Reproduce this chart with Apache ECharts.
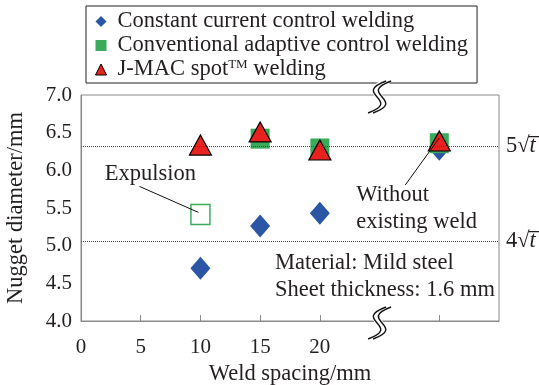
<!DOCTYPE html>
<html><head><meta charset="utf-8">
<script src="https://cdn.jsdelivr.net/npm/echarts@6/dist/echarts.min.js"></script>
<style>html,body{margin:0;padding:0;background:#fff}#c{width:539px;height:385px}</style>
</head><body><div id="c"></div>
<script>
const seriesNames = ['Constant current control welding','Conventional adaptive control welding','J-MAC spot\u2122 welding'];
const weldSpacing = [10, 15, 20, 30];
const constantCurrent = [4.70, 5.26, 5.43, 6.28];
const conventionalAdaptive = [5.415, 6.42, 6.29, 6.36];
const jmacSpot = [6.335, 6.51, 6.27, 6.39];
const xTickLabels = [0, 5, 10, 15, 20];
const xTicks = [5, 10, 15, 20, 25, 30];
const refLines = [{v: 5*Math.sqrt(1.6), k: '5'}, {v: 4*Math.sqrt(1.6), k: '4'}];
const expulsionIndex = 0;

const FONT = 'Liberation Serif';
const TXT = '#231f20';
const AX = '#8a8a8a';
const FS = 22.5;
const chart = echarts.init(document.getElementById('c'), null, {renderer: 'canvas'});

function pairs(vals){ return weldSpacing.map((x,i)=>[x, vals[i]]); }

const option = {
  animation: false,
  textStyle: {fontFamily: FONT, color: TXT},
  grid: {left: 81, right: 40, top: 95, bottom: 64, show: true, borderColor: AX, borderWidth: 1,
         containLabel: false, outerBoundsMode: 'none'},
  legend: {
    orient: 'vertical', left: 86, top: 6,
    borderColor: TXT, borderWidth: 1, padding: [4, 9, 2, 9],
    itemWidth: 11, itemHeight: 11, itemGap: 1,
    formatter: n => n.replace('\u2122', '{sup|TM}'),
    textStyle: {fontFamily: FONT, fontSize: FS, color: TXT, padding: [0, 0, 0, 6],
      rich: {sup: {fontFamily: FONT, fontSize: 13, color: TXT, verticalAlign: 'top', padding: [0, 0, 8, 0]}}},
    data: [
      {name: seriesNames[0], icon: 'diamond'},
      {name: seriesNames[1], icon: 'rect'},
      {name: seriesNames[2], icon: 'triangle', itemStyle: {borderColor: '#000', borderWidth: 1}}
    ]
  },
  xAxis: {
    type: 'value', min: 0, max: 35, interval: 5,
    name: 'Weld spacing/mm', nameLocation: 'middle', nameGap: 38,
    nameTextStyle: {fontFamily: FONT, fontSize: FS, color: TXT},
    axisLine: {show: true, lineStyle: {color: AX}},
    axisTick: {show: true, inside: true, length: 6, lineStyle: {color: AX}, customValues: xTicks},
    axisLabel: {fontFamily: FONT, fontSize: 21, color: TXT, margin: 16, customValues: xTickLabels},
    splitLine: {show: false}
  },
  yAxis: {
    type: 'value', min: 4, max: 7, interval: 0.5,
    name: 'Nugget diameter/mm', nameLocation: 'middle', nameGap: 53, nameRotate: 90,
    nameTextStyle: {fontFamily: FONT, fontSize: FS, color: TXT},
    axisLine: {show: true, lineStyle: {color: AX}},
    axisTick: {show: false},
    axisLabel: {fontFamily: FONT, fontSize: 21, color: TXT, margin: 9, formatter: v => v.toFixed(1)},
    splitLine: {show: false}
  },
  series: [
    {
      name: seriesNames[0], type: 'scatter', symbol: 'diamond', symbolSize: [20, 23],
      itemStyle: {color: '#2b55a5', opacity: 1},
      data: pairs(constantCurrent),
      markLine: {
        silent: true, symbol: 'none',
        lineStyle: {type: 'dotted', color: '#444', width: 1},
        label: {
          position: 'end', distance: 7,
          formatter: p => '{n|' + refLines[p.dataIndex].k + '\u221A}{t|t\u0305}',
          rich: {
            n: {fontFamily: FONT, fontSize: FS, color: TXT},
            t: {fontFamily: FONT, fontSize: FS, color: TXT, fontStyle: 'italic'}
          }
        },
        data: refLines.map(r => ({yAxis: r.v}))
      }
    },
    {
      name: seriesNames[1], type: 'scatter', symbol: 'rect', symbolSize: [19, 20],
      itemStyle: {color: '#3aab5b', opacity: 1},
      data: pairs(conventionalAdaptive).map((p, i) => i === expulsionIndex
        ? {value: p, itemStyle: {color: '#fff', borderColor: '#3aab5b', borderWidth: 1.5}}
        : {value: p})
    },
    {
      name: seriesNames[2], type: 'scatter', symbol: 'triangle', symbolSize: [22, 20],
      itemStyle: {color: '#e8231f', borderColor: '#000', borderWidth: 1.2, opacity: 1},
      data: pairs(jmacSpot)
    }
  ]
};
chart.setOption(option);

// annotations & axis-break marks positioned through the chart's own coordinate system
const px = (x, y) => chart.convertToPixel({gridIndex: 0}, [x, y]);
const expP = px(weldSpacing[expulsionIndex], conventionalAdaptive[expulsionIndex]);
const woP = px(weldSpacing[3], jmacSpot[3]);
const brTop = px(25, 7), brBot = px(25, 4);
function breakMark(c) {
  const s = {x1: 9, y1: -16, cpx1: -26, cpy1: -3, cpx2: 26, cpy2: 3, x2: -9, y2: 16};
  return [
    {type: 'bezierCurve', x: c[0], y: c[1] + 2, shape: s, style: {stroke: '#fff', lineWidth: 7, fill: null}, z: 100},
    {type: 'bezierCurve', x: c[0] - 2.5, y: c[1] + 2, shape: s, style: {stroke: '#111', lineWidth: 1.4, fill: null}, z: 101},
    {type: 'bezierCurve', x: c[0] + 2.5, y: c[1] + 2, shape: s, style: {stroke: '#111', lineWidth: 1.4, fill: null}, z: 101}
  ];
}
const ts = {fontFamily: FONT, fontSize: FS, fill: TXT};
chart.setOption({
  graphic: [
    ...breakMark(brTop), ...breakMark(brBot),
    {type: 'text', x: expP[0] - 50, y: expP[1] - 40, style: Object.assign({text: 'Expulsion', textAlign: 'center', textVerticalAlign: 'middle'}, ts), z: 50},
    {type: 'line', shape: {x1: expP[0] - 61, y1: expP[1] - 28, x2: expP[0] - 2, y2: expP[1] - 2}, style: {stroke: '#111', lineWidth: 1}, z: 50},
    {type: 'text', x: woP[0] - 83, y: woP[1] + 54, style: Object.assign({text: 'Without', textAlign: 'left', textVerticalAlign: 'middle'}, ts), z: 50},
    {type: 'text', x: woP[0] - 83, y: woP[1] + 81, style: Object.assign({text: 'existing weld', textAlign: 'left', textVerticalAlign: 'middle'}, ts), z: 50},
    {type: 'line', shape: {x1: woP[0] - 34, y1: woP[1] + 44, x2: woP[0], y2: woP[1] - 3}, style: {stroke: '#111', lineWidth: 1}, z: 50},
    {type: 'text', x: 275, y: 263, style: Object.assign({text: 'Material: Mild steel', textAlign: 'left', textVerticalAlign: 'middle'}, ts), z: 50},
    {type: 'text', x: 275, y: 290, style: Object.assign({text: 'Sheet thickness: 1.6 mm', textAlign: 'left', textVerticalAlign: 'middle'}, ts), z: 50}
  ]
});
</script></body></html>
